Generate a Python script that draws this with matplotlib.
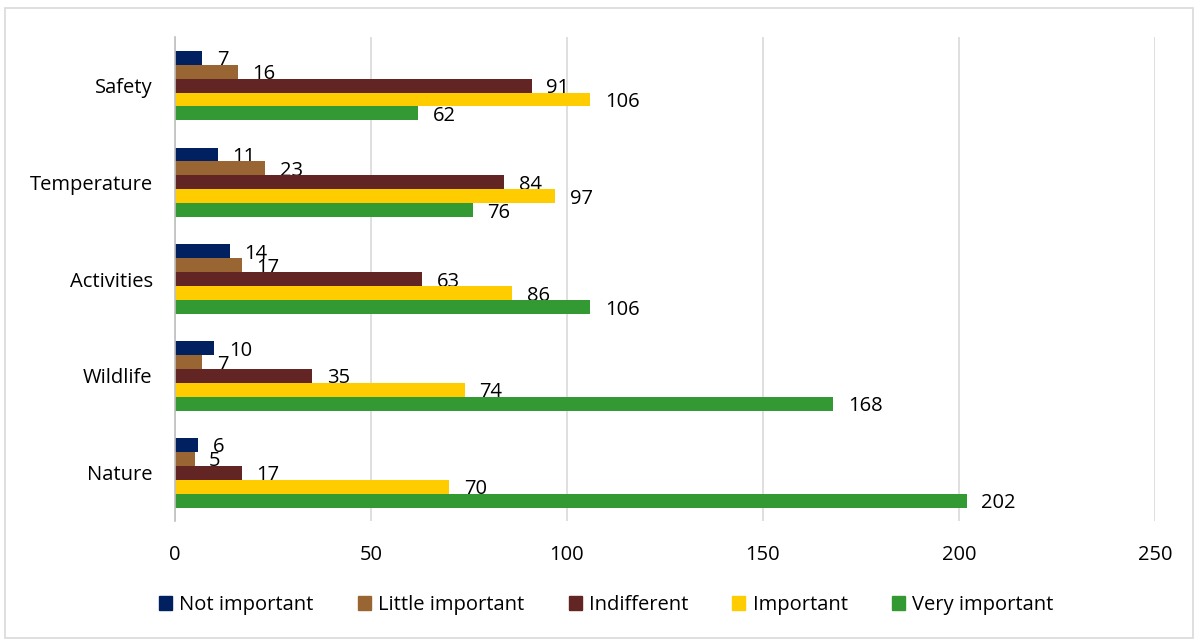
import matplotlib
matplotlib.use("Agg")
import matplotlib.pyplot as plt
import numpy as np
from matplotlib.patches import Rectangle

plt.rcParams['font.family'] = ['Open Sans', 'DejaVu Sans']

categories = ["Safety", "Temperature", "Activities", "Wildlife", "Nature"]
series_names = ["Not important", "Little important", "Indifferent", "Important", "Very important"]
not_important = [7, 11, 14, 10, 6]
little_important = [16, 23, 17, 7, 5]
indifferent = [91, 84, 63, 35, 17]
important = [106, 97, 86, 74, 70]
very_important = [62, 76, 106, 168, 202]
colors = ["#002060", "#996633", "#632523", "#FFCC00", "#339933"]
x_ticks = [0, 50, 100, 150, 200, 250]

series = [not_important, little_important, indifferent, important, very_important]
FS = 14.5

fig = plt.figure(figsize=(11.98, 6.41), dpi=100)
ax = fig.add_axes([0.146, 0.187, 0.818, 0.755])

bar_h = 0.144
y_centers = np.arange(len(categories))
for i, (vals, col, name) in enumerate(zip(series, colors, series_names)):
    offs = (i - 2) * bar_h
    ys = y_centers + offs
    ax.barh(ys, vals, height=bar_h, color=col, label=name, zorder=3)
    for v, y in zip(vals, ys):
        ax.annotate(str(v), (v, y), xytext=(10.5, -1.8), textcoords="offset points",
                    ha="left", va="center", fontsize=FS, color="black")

ax.set_ylim(len(categories) - 0.5, -0.5)
ax.set_xlim(0, 250)
ax.set_xticks(x_ticks)
ax.set_xticklabels([str(t) for t in x_ticks], fontsize=FS)
ax.set_yticks(y_centers)
ax.set_yticklabels(categories, fontsize=FS)
ax.tick_params(axis="x", length=0, pad=17.5)
ax.tick_params(axis="y", length=0, pad=16)
ax.grid(axis="x", color="#D9D9D9", linewidth=1.2, zorder=0)
for s in ["top", "right", "bottom"]:
    ax.spines[s].set_visible(False)
ax.spines["left"].set_color("#BFBFBF")
ax.spines["left"].set_linewidth(1.2)
ax.spines["left"].set_zorder(4)

handles = [Rectangle((0, 0), 1, 1, color=c) for c in colors]
fig.legend(handles, series_names, loc="center", bbox_to_anchor=(0.506, 0.056),
           ncol=5, frameon=False, fontsize=FS, handlelength=0.65, handleheight=0.65,
           handletextpad=0.35, columnspacing=2.2)

fig.patches.append(Rectangle((5 / 1198, 3 / 641), 1188 / 1198, 630 / 641,
                             transform=fig.transFigure, fill=False,
                             edgecolor="#D9D9D9", linewidth=1.2))

fig.savefig("out.png", dpi=100)
